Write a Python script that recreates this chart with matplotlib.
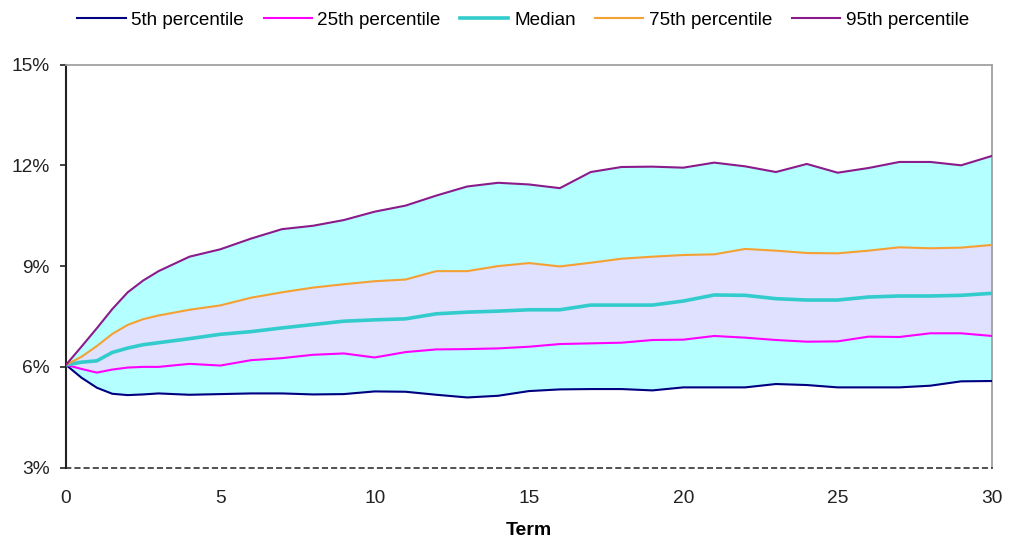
import matplotlib
matplotlib.use('Agg')
import matplotlib.pyplot as plt
from matplotlib.ticker import FuncFormatter

# term (years) and percentile paths of the rate, in %
term = [0, 0.5, 1, 1.5, 2, 2.5, 3, 4, 5, 6, 7, 8, 9, 10, 11, 12, 13, 14, 15,
        16, 17, 18, 19, 20, 21, 22, 23, 24, 25, 26, 27, 28, 29, 30]

p5 = [6.06, 5.68, 5.38, 5.20, 5.16, 5.18, 5.21, 5.17, 5.19, 5.21, 5.21, 5.18,
      5.19, 5.27, 5.26, 5.17, 5.09, 5.14, 5.28, 5.33, 5.34, 5.34, 5.30, 5.39,
      5.39, 5.39, 5.49, 5.46, 5.39, 5.39, 5.39, 5.44, 5.57, 5.58]
p25 = [6.06, 5.94, 5.83, 5.92, 5.98, 6.00, 6.00, 6.09, 6.04, 6.20, 6.26, 6.36,
       6.40, 6.28, 6.44, 6.52, 6.53, 6.55, 6.60, 6.68, 6.70, 6.72, 6.80, 6.81,
       6.92, 6.87, 6.80, 6.75, 6.76, 6.90, 6.89, 7.00, 7.00, 6.92]
median = [6.06, 6.14, 6.18, 6.43, 6.56, 6.66, 6.72, 6.84, 6.97, 7.05, 7.16, 7.26,
          7.36, 7.40, 7.43, 7.58, 7.63, 7.66, 7.70, 7.70, 7.84, 7.84, 7.84, 7.96,
          8.14, 8.13, 8.03, 7.99, 7.99, 8.08, 8.11, 8.11, 8.13, 8.19]
p75 = [6.06, 6.30, 6.62, 6.98, 7.25, 7.42, 7.53, 7.70, 7.83, 8.06, 8.22, 8.36,
       8.46, 8.55, 8.60, 8.85, 8.85, 9.00, 9.09, 8.99, 9.10, 9.22, 9.28, 9.33,
       9.35, 9.51, 9.46, 9.39, 9.38, 9.46, 9.56, 9.53, 9.55, 9.63]
p95 = [6.06, 6.60, 7.15, 7.72, 8.22, 8.57, 8.85, 9.28, 9.50, 9.82, 10.10, 10.20,
       10.37, 10.62, 10.80, 11.10, 11.37, 11.48, 11.43, 11.32, 11.80, 11.95, 11.96,
       11.93, 12.08, 11.97, 11.80, 12.04, 11.78, 11.92, 12.10, 12.10, 12.00, 12.28]

labels = ['5th percentile', '25th percentile', 'Median', '75th percentile', '95th percentile']
colors = ['#000080', '#FF00FF', '#33CCCC', '#F5A033', '#8B1A8B']
widths = [1.5, 1.5, 2.6, 1.5, 1.5]

plt.rcParams['font.family'] = ['Liberation Sans', 'DejaVu Sans']

fig = plt.figure(figsize=(10.1, 5.44), dpi=100)
ax = fig.add_axes([0.0653, 0.1403, 0.9169, 0.7411])

ax.fill_between(term, p5, p95, color='#B4FFFF', lw=0, zorder=1)
ax.fill_between(term, p25, p75, color='#E0E0FF', lw=0, zorder=2)

series = [p5, p25, median, p75, p95]
for vals, lab, c, w in zip(series, labels, colors, widths):
    ax.plot(term, vals, color=c, lw=w, label=lab, zorder=3)

ax.set_xlim(0, 30)
ax.set_ylim(3, 15)
ax.set_xticks(range(0, 31, 5))
ax.set_yticks([3, 6, 9, 12, 15])
ax.yaxis.set_major_formatter(FuncFormatter(lambda v, p: '%d%%' % v))
ax.tick_params(axis='y', length=4, width=1.2, pad=7.5, labelsize=13.8, colors='#222222')
ax.tick_params(axis='x', length=0, pad=16, labelsize=13.8, colors='#222222')
ax.set_xlabel('Term', fontsize=14, fontweight='bold', labelpad=11)

ax.spines['left'].set_color('#222222')
ax.spines['left'].set_linewidth(1.5)
ax.spines['top'].set_color('#A0A0A0')
ax.spines['right'].set_color('#A0A0A0')
ax.spines['top'].set_linewidth(1.3)
ax.spines['right'].set_linewidth(1.3)
ax.spines['bottom'].set_color('#222222')
ax.spines['bottom'].set_linewidth(1.1)
ax.spines['bottom'].set_linestyle((0, (3, 3)))

fig.legend(loc='center', bbox_to_anchor=(0.518, 0.963), ncol=5, frameon=False,
           fontsize=13.6, handlelength=2.55, handletextpad=0.3, columnspacing=1.03)

fig.savefig('out.png', dpi=100)
